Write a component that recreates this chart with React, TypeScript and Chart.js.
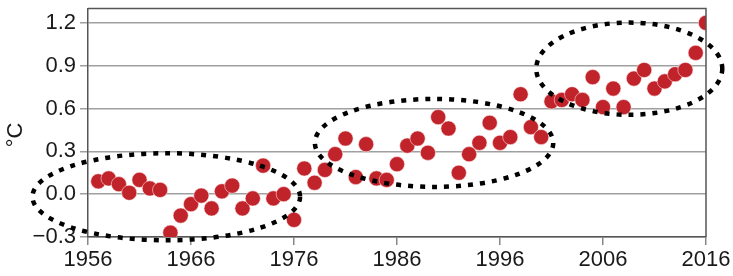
import React, { useEffect, useRef } from 'react';
import { Chart, registerables } from 'chart.js';

Chart.register(...registerables);

const years = [
  1957, 1958, 1959, 1960, 1961, 1962, 1963, 1964, 1965, 1966,
  1967, 1968, 1969, 1970, 1971, 1972, 1973, 1974, 1975, 1976,
  1977, 1978, 1979, 1980, 1981, 1982, 1983, 1984, 1985, 1986,
  1987, 1988, 1989, 1990, 1991, 1992, 1993, 1994, 1995, 1996,
  1997, 1998, 1999, 2000, 2001, 2002, 2003, 2004, 2005, 2006,
  2007, 2008, 2009, 2010, 2011, 2012, 2013, 2014, 2015, 2016,
];

const anomalies = [
  0.09, 0.11, 0.07, 0.01, 0.10, 0.04, 0.03, -0.27, -0.15, -0.07,
  -0.01, -0.10, 0.02, 0.06, -0.10, -0.03, 0.20, -0.03, 0.00, -0.18,
  0.18, 0.08, 0.17, 0.28, 0.39, 0.12, 0.35, 0.11, 0.10, 0.21,
  0.34, 0.39, 0.29, 0.54, 0.46, 0.15, 0.28, 0.36, 0.50, 0.36,
  0.40, 0.70, 0.47, 0.40, 0.65, 0.66, 0.70, 0.66, 0.82, 0.61,
  0.74, 0.61, 0.81, 0.87, 0.74, 0.79, 0.84, 0.87, 0.99, 1.20,
];

const xTickValues = [1956, 1966, 1976, 1986, 1996, 2006, 2016];
const yTickValues = [-0.3, 0, 0.3, 0.6, 0.9, 1.2];
const yAxisLabel = '°C';

// Highlight ellipses in data units: centre year, centre value, half-width (years), half-height (°C)
const ellipseCenterYears = [1963.6, 1989.6, 2008.55];
const ellipseCenterValues = [-0.018, 0.359, 0.879];
const ellipseHalfYears = [12.99, 11.57, 9.03];
const ellipseHalfValues = [0.305, 0.308, 0.323];

const FONT = '"Liberation Sans", Arial, sans-serif';

const overlayPlugin = {
  id: 'overlay',
  afterDraw(chart: any) {
    const ctx = chart.ctx;
    const { left, top, right, bottom } = chart.chartArea;
    const xs = chart.scales.x;
    const ys = chart.scales.y;
    ctx.save();
    // top and right frame
    ctx.strokeStyle = '#555555';
    ctx.lineWidth = 1.5;
    ctx.beginPath();
    ctx.moveTo(left, top);
    ctx.lineTo(right, top);
    ctx.lineTo(right, bottom);
    ctx.stroke();

    // dotted ellipses
    ctx.strokeStyle = '#000000';
    ctx.lineWidth = 4.5;
    ctx.setLineDash([5, 7]);
    for (let i = 0; i < ellipseCenterYears.length; i++) {
      const cx = xs.getPixelForValue(ellipseCenterYears[i]);
      const cy = ys.getPixelForValue(ellipseCenterValues[i]);
      const rx = Math.abs(xs.getPixelForValue(ellipseCenterYears[i] + ellipseHalfYears[i]) - cx);
      const ry = Math.abs(ys.getPixelForValue(ellipseCenterValues[i] + ellipseHalfValues[i]) - cy);
      ctx.beginPath();
      ctx.ellipse(cx, cy, rx, ry, 0, 0, Math.PI * 2);
      ctx.stroke();
    }
    ctx.setLineDash([]);

    // y-axis title
    ctx.fillStyle = '#1a1a1a';
    ctx.font = `22px ${FONT}`;
    ctx.textAlign = 'center';
    ctx.textBaseline = 'middle';
    ctx.translate(16, 135);
    ctx.rotate(-Math.PI / 2);
    ctx.fillText(yAxisLabel, 0, 0);
    ctx.restore();
  },
};

export default function App() {
  const canvasRef = useRef<HTMLCanvasElement | null>(null);

  useEffect(() => {
    document.body.style.margin = '0';
    const canvas = canvasRef.current;
    if (!canvas) return;
    const points = years.map((y, i) => ({ x: y, y: anomalies[i] }));
    const chart = new Chart(canvas, {
      type: 'scatter',
      data: {
        datasets: [
          {
            data: points,
            backgroundColor: '#c1232b',
            borderColor: 'rgba(255,235,235,0.55)',
            borderWidth: 1,
            pointRadius: 7.6,
            pointHoverRadius: 7.6,
          },
        ],
      },
      options: {
        animation: false,
        responsive: false,
        maintainAspectRatio: false,
        layout: { padding: { left: 0, right: 27, top: 7, bottom: 0 } },
        plugins: { legend: { display: false }, tooltip: { enabled: false } },
        scales: {
          x: {
            type: 'linear',
            min: 1956,
            max: 2016,
            afterBuildTicks: (scale: any) => {
              scale.ticks = xTickValues.map((v) => ({ value: v }));
            },
            afterFit: (scale: any) => {
              scale.height = 39;
              scale.paddingLeft = 0;
              scale.paddingRight = 0;
            },
            grid: {
              drawOnChartArea: false,
              drawTicks: true,
              tickLength: 8,
              color: '#888888',
              lineWidth: 1.5,
            },
            border: { display: true, color: '#555555', width: 1.5 },
            ticks: {
              color: '#1a1a1a',
              font: { family: FONT, size: 22 },
              padding: 2,
              maxRotation: 0,
              autoSkip: false,
              callback: (v: any) => String(v),
            },
          },
          y: {
            type: 'linear',
            min: -0.3,
            max: 1.3,
            afterBuildTicks: (scale: any) => {
              scale.ticks = yTickValues.map((v) => ({ value: v }));
            },
            afterFit: (scale: any) => {
              scale.width = 88;
              scale.paddingTop = 0;
              scale.paddingBottom = 0;
            },
            grid: {
              drawOnChartArea: true,
              drawTicks: true,
              tickLength: 8,
              color: '#a0a0a0',
              lineWidth: 1.5,
            },
            border: { display: true, color: '#555555', width: 1.5 },
            ticks: {
              color: '#1a1a1a',
              font: { family: FONT, size: 22 },
              padding: 4,
              autoSkip: false,
              callback: (v: any) => Number(v).toFixed(1).replace('-', '\u2212'),
            },
          },
        },
      },
      plugins: [overlayPlugin],
    });
    return () => chart.destroy();
  }, []);

  return (
    <div style={{ width: 733, height: 276 }}>
      <canvas ref={canvasRef} width={733} height={276} style={{ display: 'block' }} />
    </div>
  );
}
